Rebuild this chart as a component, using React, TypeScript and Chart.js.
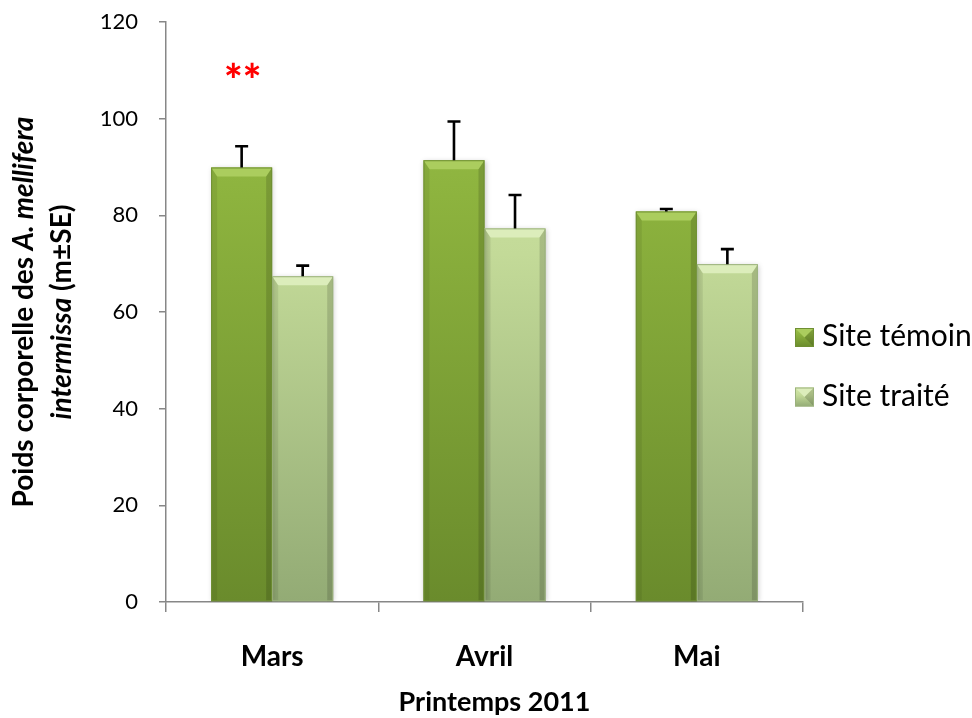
import { useEffect, useRef } from 'react';
import { Chart, registerables } from 'chart.js';

Chart.register(...registerables);

// ---------- data ----------
const categories = ['Mars', 'Avril', 'Mai'];
const seriesNames = ['Site témoin', 'Site traité'];
const temoinValues = [89.9, 91.4, 80.8];
const temoinErrors = [4.4, 8.0, 0.5];
const traiteValues = [67.4, 77.3, 69.9];
const traiteErrors = [2.2, 6.9, 3.1];
const yTicks = [0, 20, 40, 60, 80, 100, 120];
const significanceMarks = ['**', '', ''];
const significanceLevel = [110, 0, 0];
const xTitle = 'Printemps 2011';
const yTitleLine1 = [
  { text: 'Poids corporelle des ', italic: false },
  { text: 'A. mellifera', italic: true },
];
const yTitleLine2 = [
  { text: 'intermissa', italic: true },
  { text: ' (m±SE)', italic: false },
];

// ---------- style ----------
const FONT = 'Lato, "Open Sans", "DejaVu Sans", sans-serif';
const AXIS_COLOR = '#878787';
const gradStops = [
  [[0, '#9cc24e'], [0.3, '#8db33e'], [1, '#6a8b2c']],
  [[0, '#d3e8a8'], [0.4, '#c3da98'], [1, '#93ab75']],
];
const bevelTop = ['#abcd5e', '#dcedbb'];
const borderColors = ['#6f8f33', '#9bb17d'];
const errorsBySeries = [temoinErrors, traiteErrors];

function makeGradient(chart: any, di: number, top?: number, bottom?: number) {
  const area = chart.chartArea;
  const t = top ?? (area ? area.top : 0);
  const b = bottom ?? (area ? area.bottom : 600);
  const g = chart.ctx.createLinearGradient(0, t, 0, b);
  for (const [o, c] of gradStops[di]) g.addColorStop(o as number, c as string);
  return g;
}

function drawRich(c: CanvasRenderingContext2D, parts: { text: string; italic: boolean }[], size: number, cx: number, baseline: number) {
  const fontFor = (it: boolean) => `${it ? 'italic ' : ''}bold ${size}px ${FONT}`;
  let total = 0;
  for (const p of parts) {
    c.font = fontFor(p.italic);
    total += c.measureText(p.text).width;
  }
  let x = cx - total / 2;
  for (const p of parts) {
    c.font = fontFor(p.italic);
    c.fillText(p.text, x, baseline);
    x += c.measureText(p.text).width;
  }
}

const decorPlugin = {
  id: 'decor',
  beforeDatasetsDraw(chart: any) {
    const c = chart.ctx;
    c.save();
    c.shadowColor = 'rgba(0,0,0,0.22)';
    c.shadowBlur = 5;
    c.shadowOffsetX = 1;
    c.shadowOffsetY = 1;
  },
  afterDatasetsDraw(chart: any) {
    const c: CanvasRenderingContext2D = chart.ctx;
    c.restore();
    const yScale = chart.scales.y;
    chart.data.datasets.forEach((_ds: any, di: number) => {
      const meta = chart.getDatasetMeta(di);
      meta.data.forEach((el: any, i: number) => {
        const { x, y, base, width } = el.getProps(['x', 'y', 'base', 'width'], true);
        const l = x - width / 2;
        const r = x + width / 2;
        const bt = 9;
        const bs = 6;
        c.save();
        c.fillStyle = bevelTop[di];
        c.beginPath();
        c.moveTo(l, y);
        c.lineTo(r, y);
        c.lineTo(r - bs, y + bt);
        c.lineTo(l + bs, y + bt);
        c.closePath();
        c.fill();
        c.fillStyle = 'rgba(0,0,0,0.07)';
        c.beginPath();
        c.moveTo(l, y);
        c.lineTo(l + bs, y + bt);
        c.lineTo(l + bs, base);
        c.lineTo(l, base);
        c.closePath();
        c.fill();
        c.fillStyle = 'rgba(0,0,0,0.14)';
        c.beginPath();
        c.moveTo(r, y);
        c.lineTo(r - bs, y + bt);
        c.lineTo(r - bs, base);
        c.lineTo(r, base);
        c.closePath();
        c.fill();
        c.strokeStyle = borderColors[di];
        c.lineWidth = 1;
        c.strokeRect(l + 0.5, y + 0.5, width - 1, base - y - 1);
        c.restore();

        // error bar (upper only)
        const v = chart.data.datasets[di].data[i];
        const e = errorsBySeries[di][i];
        const yTop = yScale.getPixelForValue(v + e);
        c.save();
        c.strokeStyle = '#000';
        c.lineWidth = 2.6;
        c.beginPath();
        c.moveTo(x, y);
        c.lineTo(x, yTop);
        c.moveTo(x - 6.5, yTop);
        c.lineTo(x + 6.5, yTop);
        c.stroke();
        c.restore();
      });
    });

    // significance marks above first series
    const meta0 = chart.getDatasetMeta(0);
    significanceMarks.forEach((mark, i) => {
      if (!mark) return;
      const el = meta0.data[i];
      const py = yScale.getPixelForValue(significanceLevel[i]);
      c.save();
      c.fillStyle = '#ff0000';
      c.font = `900 44px ${FONT}`;
      c.textAlign = 'center';
      c.textBaseline = 'alphabetic';
      const m = c.measureText(mark);
      const off = (m.actualBoundingBoxAscent - m.actualBoundingBoxDescent) / 2;
      c.fillText(mark, el.x + 1, py + off);
      c.restore();
    });
  },
  afterDraw(chart: any) {
    const c: CanvasRenderingContext2D = chart.ctx;
    const area = chart.chartArea;
    // y title (two lines, rotated)
    const cy = (area.top + area.bottom) / 2;
    [[yTitleLine1, 33], [yTitleLine2, 71]].forEach(([parts, bx]: any) => {
      c.save();
      c.fillStyle = '#000';
      c.textBaseline = 'alphabetic';
      c.textAlign = 'left';
      c.translate(bx, cy);
      c.rotate(-Math.PI / 2);
      drawRich(c, parts, 28, 0, 0);
      c.restore();
    });

    // x title
    c.save();
    c.fillStyle = '#000';
    c.font = `bold 27px ${FONT}`;
    c.textAlign = 'center';
    c.textBaseline = 'alphabetic';
    c.fillText(xTitle, (area.left + area.right) / 2 + 10, 711);
    c.restore();

    // legend
    const legendY = [337.5, 397];
    seriesNames.forEach((name, di) => {
      const sx = 795;
      const sy = legendY[di] - 9.5;
      const s = 19;
      c.save();
      c.fillStyle = makeGradient(chart, di, sy, sy + s);
      c.fillRect(sx, sy, s, s);
      c.fillStyle = bevelTop[di];
      c.beginPath();
      c.moveTo(sx, sy);
      c.lineTo(sx + s, sy);
      c.lineTo(sx + s / 2, sy + s / 2);
      c.closePath();
      c.fill();
      c.fillStyle = 'rgba(0,0,0,0.15)';
      c.beginPath();
      c.moveTo(sx + s, sy);
      c.lineTo(sx + s, sy + s);
      c.lineTo(sx + s / 2, sy + s / 2);
      c.closePath();
      c.fill();
      c.strokeStyle = borderColors[di];
      c.lineWidth = 1;
      c.strokeRect(sx + 0.5, sy + 0.5, s - 1, s - 1);
      c.fillStyle = '#000';
      c.font = `30px ${FONT}`;
      c.textAlign = 'left';
      c.textBaseline = 'middle';
      c.fillText(name, 822, legendY[di] - 1);
      c.restore();
    });
  },
};

export default function App() {
  const ref = useRef<HTMLCanvasElement>(null);
  useEffect(() => {
    if (!ref.current) return;
    const chart = new Chart(ref.current, {
      type: 'bar',
      data: {
        labels: categories,
        datasets: [
          {
            label: seriesNames[0],
            data: temoinValues,
            backgroundColor: (ctx: any) => makeGradient(ctx.chart, 0),
            borderWidth: 0,
          },
          {
            label: seriesNames[1],
            data: traiteValues,
            backgroundColor: (ctx: any) => makeGradient(ctx.chart, 1),
            borderWidth: 0,
          },
        ],
      },
      options: {
        responsive: false,
        animation: false,
        devicePixelRatio: 1,
        datasets: { bar: { categoryPercentage: 0.575, barPercentage: 1 } },
        layout: { padding: { top: 22, right: 169, bottom: 0, left: 0 } },
        plugins: {
          legend: { display: false },
          tooltip: { enabled: false },
        },
        scales: {
          x: {
            afterFit: (s: any) => { s.height = 116; s.paddingLeft = 0; s.paddingRight = 0; },
            grid: {
              display: true,
              drawOnChartArea: false,
              drawTicks: true,
              tickLength: 10,
              color: AXIS_COLOR,
              lineWidth: 1.5,
              offset: true,
            },
            border: { color: AXIS_COLOR, width: 1.5 },
            ticks: {
              color: '#000',
              font: { family: FONT, size: 28, weight: 'bold' },
              padding: 28,
            },
          },
          y: {
            min: yTicks[0],
            max: yTicks[yTicks.length - 1],
            afterFit: (s: any) => { s.width = 166; s.paddingTop = 0; s.paddingBottom = 0; },
            grid: {
              display: true,
              drawOnChartArea: false,
              drawTicks: true,
              tickLength: 7,
              color: AXIS_COLOR,
              lineWidth: 1.5,
            },
            border: { color: AXIS_COLOR, width: 1.5 },
            ticks: {
              stepSize: yTicks[1] - yTicks[0],
              color: '#000',
              font: { family: FONT, size: 22 },
              padding: 21,
            },
          },
        },
      },
      plugins: [decorPlugin],
    } as any);
    return () => chart.destroy();
  }, []);
  return (
    <div style={{ position: 'fixed', left: 0, top: 0, width: 972, height: 718, background: '#fff' }}>
      <canvas ref={ref} width={972} height={718} style={{ display: 'block', width: 972, height: 718 }} />
    </div>
  );
}
